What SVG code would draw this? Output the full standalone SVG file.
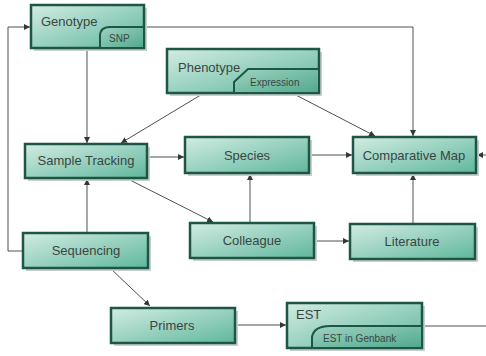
<svg xmlns="http://www.w3.org/2000/svg" width="486" height="356" viewBox="0 0 486 356">
<defs>
<linearGradient id="g" x1="0" y1="0" x2="1" y2="1">
<stop offset="0" stop-color="#d2ece3"/>
<stop offset="1" stop-color="#5fb79c"/>
</linearGradient>
<linearGradient id="gt" x1="0" y1="0" x2="1" y2="1">
<stop offset="0" stop-color="#9fd3c1"/>
<stop offset="1" stop-color="#4fa88c"/>
</linearGradient>
<marker id="a" viewBox="0 0 8 8" refX="8" refY="4" markerWidth="6" markerHeight="6" orient="auto" markerUnits="userSpaceOnUse">
<path d="M0,0 L8,4 L0,8 z" fill="#2f3a36"/>
</marker>
</defs>
<style>
.box{fill:url(#g);stroke:#1d5546;stroke-width:2.5}
.sh{fill:#c9cfcc}
.tab{fill:url(#gt);stroke:#1d5546;stroke-width:2}
.t{font-family:"Liberation Sans",Arial,sans-serif;font-size:13px;fill:#3b4542}
.s{font-family:"Liberation Sans",Arial,sans-serif;font-size:10px;fill:#3b4542}
.c{fill:none;stroke:#4a524f;stroke-width:1}
</style>
<rect width="486" height="356" fill="#ffffff"/>
<g id="connectors">
<polyline class="c" points="23,251 8,251 8,27 30,27" marker-end="url(#a)"/>
<line class="c" x1="87" y1="48" x2="87" y2="143" marker-end="url(#a)"/>
<polyline class="c" points="144,27 413,27 413,136" marker-end="url(#a)"/>
<line class="c" x1="204" y1="93" x2="121" y2="143" marker-end="url(#a)"/>
<line class="c" x1="292" y1="93" x2="375" y2="136" marker-end="url(#a)"/>
<line class="c" x1="147" y1="157" x2="184" y2="157" marker-end="url(#a)"/>
<line class="c" x1="309" y1="155" x2="352" y2="155" marker-end="url(#a)"/>
<line class="c" x1="486" y1="155" x2="477" y2="155" marker-end="url(#a)"/>
<line class="c" x1="126" y1="178" x2="213" y2="222" marker-end="url(#a)"/>
<line class="c" x1="87" y1="233" x2="87" y2="179" marker-end="url(#a)"/>
<line class="c" x1="250" y1="223" x2="250" y2="174" marker-end="url(#a)"/>
<line class="c" x1="314" y1="241" x2="349" y2="241" marker-end="url(#a)"/>
<line class="c" x1="413" y1="224" x2="413" y2="174" marker-end="url(#a)"/>
<line class="c" x1="110" y1="268" x2="150" y2="306" marker-end="url(#a)"/>
<line class="c" x1="235" y1="325" x2="286" y2="325" marker-end="url(#a)"/>
<line class="c" x1="422" y1="326" x2="486" y2="326"/>
</g>
<g id="genotype">
<rect class="sh" x="34" y="8" width="113" height="43"/>
<rect class="box" x="31" y="5" width="113" height="43"/>
<path class="tab" d="M100,48 L100,36 Q100,27 110,27 L144,27 L144,48 z"/>
<text class="t" x="41" y="26">Genotype</text>
<text class="s" x="109" y="42">SNP</text>
</g>
<g id="phenotype">
<rect class="sh" x="170" y="52" width="152" height="44"/>
<rect class="box" x="167" y="49" width="152" height="44"/>
<path class="tab" d="M234,93 L234,82 L248,69 L319,69 L319,93 z"/>
<text class="t" x="178" y="72">Phenotype</text>
<text class="s" x="250" y="86">Expression</text>
</g>
<g id="sample-tracking">
<rect class="sh" x="28" y="147" width="122" height="34"/>
<rect class="box" x="25" y="144" width="122" height="34"/>
<text class="t" x="86" y="165" text-anchor="middle">Sample Tracking</text>
</g>
<g id="species">
<rect class="sh" x="188" y="140" width="124" height="36"/>
<rect class="box" x="185" y="137" width="124" height="36"/>
<text class="t" x="247" y="160" text-anchor="middle">Species</text>
</g>
<g id="comparative-map">
<rect class="sh" x="356" y="140" width="123" height="36"/>
<rect class="box" x="353" y="137" width="123" height="36"/>
<text class="t" x="414" y="160" text-anchor="middle">Comparative Map</text>
</g>
<g id="sequencing">
<rect class="sh" x="26" y="236" width="125" height="35"/>
<rect class="box" x="23" y="233" width="125" height="35"/>
<text class="t" x="86" y="255" text-anchor="middle">Sequencing</text>
</g>
<g id="colleague">
<rect class="sh" x="193" y="226" width="124" height="35"/>
<rect class="box" x="190" y="223" width="124" height="35"/>
<text class="t" x="252" y="245" text-anchor="middle">Colleague</text>
</g>
<g id="literature">
<rect class="sh" x="353" y="227" width="125" height="35"/>
<rect class="box" x="350" y="224" width="125" height="35"/>
<text class="t" x="412" y="246" text-anchor="middle">Literature</text>
</g>
<g id="primers">
<rect class="sh" x="114" y="311" width="124" height="35"/>
<rect class="box" x="111" y="308" width="124" height="35"/>
<text class="t" x="172" y="330" text-anchor="middle">Primers</text>
</g>
<g id="est">
<rect class="sh" x="290" y="306" width="135" height="45"/>
<rect class="box" x="287" y="303" width="135" height="45"/>
<path class="tab" d="M312,348 L312,337 Q314,326 330,326 L422,326 L422,348 z"/>
<text class="t" x="296" y="319">EST</text>
<text class="s" x="323" y="342">EST in Genbank</text>
</g>
</svg>
